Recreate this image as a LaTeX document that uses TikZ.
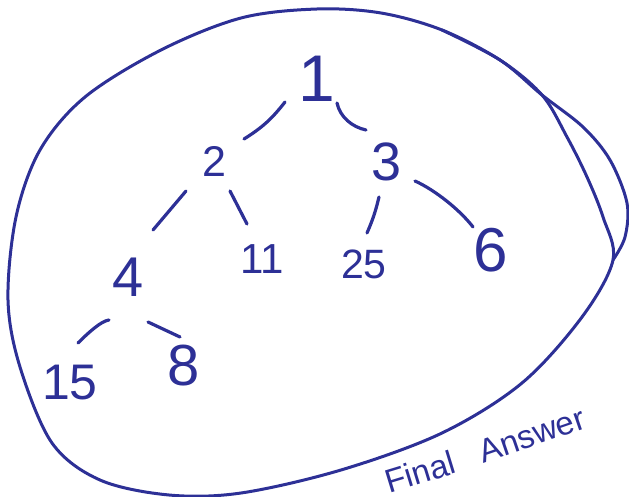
\documentclass[tikz,border=0pt]{standalone}
\usepackage{fontspec}
\setmainfont{Liberation Sans}
\usetikzlibrary{calc}
\definecolor{ink}{RGB}{45,48,150}
\begin{document}
\begin{tikzpicture}[x=1pt,y=-1pt,line cap=round,line join=round,
  num/.style={text=ink,inner sep=0pt,font=\fontsize{#1}{#1}\selectfont},
  edge/.style={draw=ink,line width=3.2pt},
  loop/.style={draw=ink,line width=3pt}]
\useasboundingbox (0,0) rectangle (629,497);
% enclosing loop
\draw[loop] plot[smooth cycle,tension=0.55] coordinates {
 (317,9) (381,13) (442,30) (500,60) (542,95) (567,137) (587,177) (603,217) (613,260)
 (582,317) (522,383) (442,433) (341,470) (241,493) (169,495) (100,480)
 (52,443) (20,367) (8,300) (16,217) (40,150) (85,97) (161,50) (241,18)};
\draw[loop] plot[smooth,tension=0.55] coordinates {
 (442,30) (500,60) (542,95) (583,127) (610,160) (627,203) (625,237) (613,260)};
% numbers
\node[num=66] (n1) at (317,79) {1};
\node[num=43] (n2) at (214,161) {2};
\node[num=54] (n3) at (387,162) {3};
\node[num=56] (n4) at (128,277) {4};
\node[num=42] (n11) at (262,259) {11};
\node[num=41] (n25) at (364,264) {25};
\node[num=62] (n6) at (491,250) {6};
\node[num=50] (n15) at (70,383) {15};
\node[num=58] (n8) at (184,366) {8};
\node[num=33,rotate=17] (fin) at (420,472) {Final};
\node[num=33,rotate=19] (ans) at (532,435) {Answer};
% edges
\draw[edge] ($(n1)+(-32,23)$) to[bend left=10] ($(n2)+(30,-22)$);
\draw[edge] ($(n1)+(20,24)$) .. controls +(3,14) and +(-14,-3) .. ($(n3)+(-21,-32)$);
\draw[edge] ($(n2)+(-28,30)$) -- ($(n4)+(25,-47)$);
\draw[edge] ($(n2)+(16,30)$) -- ($(n11)+(-15,-35)$);
\draw[edge] ($(n3)+(-8,35)$) to[bend left=5] ($(n25)+(3,-31)$);
\draw[edge] ($(n3)+(28,19)$) .. controls +(20,9) and +(-13,-17) .. ($(n6)+(-18,-23)$);
\draw[edge] ($(n4)+(-19,43)$) .. controls +(-8,1) and +(10,-10) .. ($(n15)+(8,-40)$);
\draw[edge] ($(n4)+(20,45)$) -- ($(n8)+(-4,-29)$);
\end{tikzpicture}
\end{document}
